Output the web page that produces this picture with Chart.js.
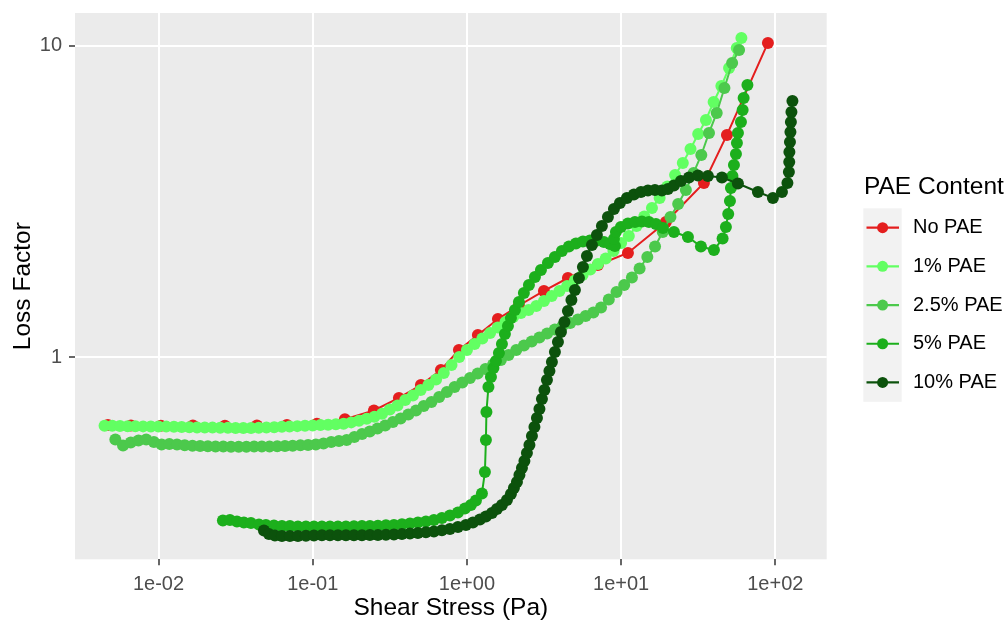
<!DOCTYPE html>
<html>
<head>
<meta charset="utf-8">
<title>Loss factor vs shear stress</title>
<script src="https://cdn.jsdelivr.net/npm/chart.js@4.4.1/dist/chart.umd.min.js"></script>
<style>
  html, body { margin: 0; padding: 0; background: #ffffff; }
  #wrap { width: 1008px; height: 623px; }
</style>
</head>
<body>
<div id="wrap"><canvas id="lossChart" width="1008" height="623"></canvas></div>
<script>
// stress sweep results, one x/y pair of arrays per PAE content
var seriesNames = ['No PAE', '1% PAE', '2.5% PAE', '5% PAE', '10% PAE'];

var noPaeX = [0.004696, 0.006622, 0.01036, 0.01671, 0.02695, 0.04345, 0.06803, 0.1065, 0.1617, 0.2494,
    0.3622, 0.5031, 0.6781, 0.8873, 1.178, 1.589, 2.174, 3.158, 4.519, 7.071, 11.07, 19.52, 34.43, 48.55, 89.54];
var noPaeY = [0.6060, 0.6040, 0.6030, 0.6035, 0.6030, 0.6035, 0.6060, 0.6120, 0.6330, 0.6747,
    0.7402, 0.8147, 0.9104, 1.0555, 1.1795, 1.3277, 1.4670, 1.6330, 1.7977, 1.9791, 2.1628, 2.7208, 3.6301, 5.1781, 10.224];

var pae1X = [0.004467, 0.005012, 0.005623, 0.006310, 0.007079, 0.007943, 0.008913,
    0.01, 0.01122, 0.01259, 0.01413, 0.01585, 0.01778, 0.01995, 0.02239, 0.02512, 0.02818,
    0.03162, 0.03548, 0.03981, 0.04467, 0.05012, 0.05623, 0.06310, 0.07079, 0.07943, 0.08913,
    0.1, 0.1122, 0.1259, 0.1413, 0.1585, 0.1778, 0.1995, 0.2239, 0.2512, 0.2818,
    0.3162, 0.3548, 0.3981, 0.4467, 0.5012, 0.5623, 0.6310, 0.7079, 0.7943, 0.8913,
    1.0, 1.122, 1.259, 1.413, 1.585, 1.778, 1.995, 2.239, 2.512, 2.818,
    3.162, 3.548, 3.981, 4.467, 5.012, 5.623, 6.310, 7.079, 7.943, 8.913,
    10.0, 11.22, 12.59, 14.13, 15.85, 17.78, 19.95, 22.39, 25.12, 28.18,
    31.62, 35.48, 39.81, 44.67, 50.12, 56.23, 60.26];
var pae1Y = [0.6030, 0.6030, 0.6020, 0.6010, 0.6005, 0.6000, 0.5996,
    0.5993, 0.5989, 0.5980, 0.5971, 0.5963, 0.5949, 0.5949, 0.5945, 0.5941, 0.5936,
    0.5932, 0.5927, 0.5927, 0.5936, 0.5949, 0.5963, 0.5980, 0.5993, 0.6011, 0.6025,
    0.6040, 0.6058, 0.6070, 0.6090, 0.6120, 0.6180, 0.6260, 0.6350, 0.6440, 0.6590,
    0.6800, 0.7000, 0.7293, 0.7541, 0.7854, 0.8147, 0.8485, 0.8903, 0.9447, 1.0022,
    1.0555, 1.1034, 1.1493, 1.1969, 1.2467, 1.2983, 1.3475, 1.3879, 1.4190, 1.4616,
    1.5166, 1.5737, 1.6330, 1.6945, 1.7648, 1.8381, 1.9144, 1.9937, 2.0765, 2.1950,
    2.3289, 2.4527, 2.6414, 2.8337, 3.0171, 3.2487, 3.5373, 3.8520, 4.2089, 4.6696,
    5.2166, 5.7834, 6.6087, 7.4386, 8.5004, 9.8533, 10.610];

var pae25X = [0.005248, 0.005888, 0.006607, 0.007413, 0.008318, 0.009333,
    0.01047, 0.01175, 0.01318, 0.01479, 0.01660, 0.01862, 0.02089, 0.02344, 0.02630, 0.02951,
    0.03311, 0.03715, 0.04169, 0.04677, 0.05248, 0.05888, 0.06607, 0.07413, 0.08318, 0.09333,
    0.1047, 0.1175, 0.1318, 0.1479, 0.1660, 0.1862, 0.2089, 0.2344, 0.2630, 0.2951,
    0.3311, 0.3715, 0.4169, 0.4677, 0.5248, 0.5888, 0.6607, 0.7413, 0.8318, 0.9333,
    1.047, 1.175, 1.318, 1.479, 1.660, 1.862, 2.089, 2.344, 2.630, 2.951,
    3.311, 3.715, 4.169, 4.677, 5.248, 5.888, 6.607, 7.413, 8.318, 9.333,
    10.47, 11.75, 13.18, 14.79, 16.60, 18.62, 20.89, 23.44, 26.30, 29.51,
    33.11, 37.15, 41.69, 46.77, 52.48, 58.21];
var pae25Y = [0.5445, 0.5208, 0.5325, 0.5405, 0.5445, 0.5345,
    0.5247, 0.5266, 0.5247, 0.5216, 0.5197, 0.5189, 0.5178, 0.5170, 0.5166, 0.5162,
    0.5162, 0.5162, 0.5166, 0.5166, 0.5170, 0.5178, 0.5189, 0.5201, 0.5216, 0.5227,
    0.5247, 0.5285, 0.5345, 0.5385, 0.5425, 0.5546, 0.5671, 0.5776, 0.5906, 0.6039,
    0.6197, 0.6359, 0.6550, 0.6747, 0.6977, 0.7186, 0.7457, 0.7738, 0.8030, 0.8299,
    0.8580, 0.8870, 0.9171, 0.9481, 0.9802, 1.0172, 1.0555, 1.0912, 1.1240, 1.1577,
    1.1925, 1.2283, 1.2606, 1.2888, 1.3228, 1.3575, 1.3930, 1.4454, 1.5335, 1.6210,
    1.7071, 1.8044, 1.9286, 2.1004, 2.2694, 2.5267, 2.8232, 3.1075, 3.4470, 3.9094,
    4.4654, 5.2553, 6.0928, 7.3294, 8.8199, 9.7077];

var pae5X = [0.02615, 0.02904, 0.03225, 0.03578, 0.03974, 0.04478, 0.04973, 0.05602, 0.06314, 0.07113,
    0.08017, 0.09034, 0.1018, 0.1147, 0.1293, 0.1457, 0.1642, 0.1850, 0.2085, 0.2349,
    0.2648, 0.2984, 0.3362, 0.3789, 0.4270, 0.4810, 0.5421, 0.6109, 0.6885, 0.7759,
    0.8743, 0.9705, 1.0615, 1.1441, 1.2512, 1.3083, 1.3280, 1.3381, 1.3789, 1.4313,
    1.4857, 1.5423, 1.6126, 1.6866, 1.7637, 1.8446, 1.9289, 2.0477, 2.1739, 2.3418,
    2.5240, 2.7606, 3.0197, 3.3514, 3.7206, 4.1308, 4.5857, 5.0920, 5.6533, 6.2763,
    6.9679, 7.7358, 8.4607, 9.1172, 8.9819, 9.2546, 9.9700, 11.07, 12.29, 13.64,
    15.15, 16.82, 18.67, 22.00, 27.13, 32.92, 39.98, 45.52, 47.82, 49.50,
    50.78, 51.55, 52.72, 53.91, 55.54, 56.36, 57.24, 59.84, 61.38, 62.31, 65.93];
var pae5Y = [0.2991, 0.3002, 0.2969, 0.2947, 0.2936, 0.2903, 0.2893, 0.2882, 0.2871, 0.2871,
    0.2861, 0.2861, 0.2861, 0.2861, 0.2861, 0.2861, 0.2861, 0.2865, 0.2871, 0.2871,
    0.2876, 0.2887, 0.2893, 0.2908, 0.2925, 0.2947, 0.2969, 0.3002, 0.3046, 0.3103,
    0.3173, 0.3268, 0.3354, 0.3467, 0.3652, 0.4281, 0.5425, 0.6672, 0.8030, 0.8644,
    0.9240, 0.9730, 1.0323, 1.1034, 1.1881, 1.2606, 1.3375, 1.4190, 1.5055, 1.6090,
    1.7071, 1.8111, 1.9073, 2.0085, 2.1004, 2.1950, 2.2694, 2.3203, 2.3549, 2.3724,
    2.3724, 2.3462, 2.3118, 2.2778, 2.3990, 2.5267, 2.6220, 2.6908, 2.7208, 2.7309,
    2.7208, 2.6809, 2.6027, 2.5267, 2.4346, 2.2694, 2.2113, 2.4079, 2.6220, 2.8866,
    3.1775, 3.4984, 3.8237, 4.1471, 4.4985, 4.8809, 5.2553, 5.7008, 6.2294, 6.8080, 7.4938];

var pae10X = [0.04827, 0.05200, 0.05687, 0.06314, 0.07113, 0.08017, 0.09034, 0.1018, 0.1147, 0.1293,
    0.1457, 0.1642, 0.1850, 0.2085, 0.2349, 0.2648, 0.2984, 0.3362, 0.3789, 0.4270,
    0.4810, 0.5421, 0.6109, 0.6885, 0.7759, 0.8743, 0.9852, 1.0937, 1.2144, 1.3280,
    1.4527, 1.5651, 1.6866, 1.8172, 1.9289, 2.0172, 2.1103, 2.1903, 2.2736, 2.3598,
    2.4496, 2.5431, 2.6399, 2.7402, 2.8447, 2.9527, 3.0648, 3.1812, 3.3023, 3.4279,
    3.5582, 3.7212, 3.8924, 4.0707, 4.2889, 4.5186, 4.7609, 5.0164, 5.3255, 5.6530,
    6.0008, 6.4676, 6.9673, 7.5070, 8.2111, 8.9814, 9.8225, 10.905, 12.107, 13.440,
    14.923, 16.566, 18.389, 20.113, 22.000, 24.423, 27.533, 31.479, 36.548, 45.066,
    57.218, 77.130, 96.48, 110.4, 119.8, 122.5, 123.1, 123.4, 124.4, 125.3,
    126.2, 127.2, 129.1];
var pae10Y = [0.2777, 0.2706, 0.2676, 0.2666, 0.2666, 0.2666, 0.2670, 0.2676, 0.2680, 0.2682,
    0.2682, 0.2682, 0.2682, 0.2682, 0.2686, 0.2686, 0.2690, 0.2696, 0.2706, 0.2716,
    0.2726, 0.2740, 0.2756, 0.2781, 0.2808, 0.2850, 0.2893, 0.2947, 0.3013, 0.3080,
    0.3161, 0.3256, 0.3354, 0.3480, 0.3638, 0.3803, 0.3976, 0.4187, 0.4410, 0.4644,
    0.4927, 0.5228, 0.5587, 0.5972, 0.6383, 0.6823, 0.7348, 0.7854, 0.8454, 0.9036,
    0.9658, 1.0400, 1.1199, 1.2058, 1.2983, 1.4085, 1.5278, 1.6451, 1.7977, 1.9500,
    2.1160, 2.2949, 2.4711, 2.6414, 2.8232, 2.9950, 3.1306, 3.2487, 3.3343, 3.3963,
    3.4343, 3.4470, 3.4343, 3.4727, 3.5635, 3.6841, 3.7806, 3.8371, 3.8237, 3.7806,
    3.6167, 3.3963, 3.2487, 3.3963, 3.6301, 3.9384, 4.2402, 4.5660, 4.9172, 5.2943,
    5.7008, 6.1380, 6.6578];

var xTicks = [0.01, 0.1, 1, 10, 100];
var xTickLabels = ['1e-02', '1e-01', '1e+00', '1e+01', '1e+02'];
var yTicks = [1, 10];
var yTickLabels = ['1', '10'];

var seriesColors = ['#E41E1E', '#62FF62', '#4CC94C', '#1CAF1C', '#0C520C'];
var FONT = '"Liberation Sans", Arial, sans-serif';

function toPoints(xs, ys) {
    return xs.map(function (x, i) { return {x: x, y: ys[i]}; });
}

var seriesData = [
    toPoints(noPaeX, noPaeY),
    toPoints(pae1X, pae1Y),
    toPoints(pae25X, pae25Y),
    toPoints(pae5X, pae5Y),
    toPoints(pae10X, pae10Y)
];

var datasets = seriesNames.map(function (name, i) {
    return {
        label: name,
        data: seriesData[i],
        showLine: true,
        borderColor: seriesColors[i],
        backgroundColor: seriesColors[i],
        pointBackgroundColor: seriesColors[i],
        pointBorderWidth: 0,
        pointRadius: 6,
        pointHoverRadius: 6,
        borderWidth: 2,
        tension: 0,
        // later series sit on top
        order: seriesNames.length - 1 - i
    };
});

// grey panel behind the grid
var panelBackground = {
    id: 'panelBackground',
    beforeDraw: function (chart) {
        var ctx = chart.ctx, a = chart.chartArea;
        ctx.save();
        ctx.fillStyle = '#FFFFFF';
        ctx.fillRect(0, 0, chart.width, chart.height);
        ctx.fillStyle = '#EBEBEB';
        ctx.fillRect(a.left, a.top, a.right - a.left, a.bottom - a.top);
        ctx.restore();
    }
};

// legend on the right: title, grey key column, line+dot keys
var sideLegend = {
    id: 'sideLegend',
    afterDraw: function (chart) {
        var ctx = chart.ctx;
        var keyTop = 208.3, keyH = 38.7;
        ctx.save();
        ctx.textBaseline = 'middle';
        ctx.textAlign = 'left';
        ctx.fillStyle = '#000000';
        ctx.font = '24.5px ' + FONT;
        ctx.fillText('PAE Content', 864, 187);

        ctx.fillStyle = '#F2F2F2';
        ctx.fillRect(863.3, keyTop, 38.4, keyH * seriesNames.length);

        ctx.font = '20px ' + FONT;
        seriesNames.forEach(function (name, i) {
            var cy = keyTop + keyH * (i + 0.5);
            ctx.strokeStyle = seriesColors[i];
            ctx.lineWidth = 2.2;
            ctx.beginPath();
            ctx.moveTo(866.5, cy);
            ctx.lineTo(899, cy);
            ctx.stroke();
            ctx.fillStyle = seriesColors[i];
            ctx.beginPath();
            ctx.arc(882.6, cy, 5.5, 0, Math.PI * 2);
            ctx.fill();
            ctx.fillStyle = '#000000';
            ctx.fillText(name, 913, cy);
        });
        ctx.restore();
    }
};

Chart.defaults.font.family = FONT;

var lossChart = new Chart(document.getElementById('lossChart'), {
    type: 'scatter',
    data: {datasets: datasets},
    plugins: [panelBackground, sideLegend],
    options: {
        responsive: false,
        animation: false,
        events: [],
        layout: {padding: {left: 0, top: 13, right: 181.3, bottom: 0}},
        plugins: {
            legend: {display: false},
            tooltip: {enabled: false}
        },
        scales: {
            x: {
                type: 'logarithmic',
                min: 0.002873,
                max: 215.4,
                afterBuildTicks: function (scale) {
                    scale.ticks = xTicks.map(function (v) { return {value: v}; });
                },
                afterFit: function (scale) {
                    scale.height = 63.7;
                    scale.paddingLeft = 0;
                    scale.paddingRight = 0;
                },
                ticks: {
                    autoSkip: false,
                    maxRotation: 0,
                    padding: 7,
                    color: '#4D4D4D',
                    font: {size: 20},
                    callback: function (value, index) { return xTickLabels[index]; }
                },
                grid: {color: '#FFFFFF', lineWidth: 2, tickColor: '#333333', tickLength: 6, tickWidth: 1.5},
                border: {display: false},
                title: {
                    display: true,
                    text: 'Shear Stress (Pa)',
                    color: '#000000',
                    font: {size: 24.5},
                    padding: {top: 0, bottom: 0}
                }
            },
            y: {
                type: 'logarithmic',
                min: 0.2245,
                max: 12.76,
                afterBuildTicks: function (scale) {
                    scale.ticks = yTicks.map(function (v) { return {value: v}; });
                },
                afterFit: function (scale) {
                    scale.width = 75;
                    scale.paddingTop = 0;
                    scale.paddingBottom = 0;
                },
                ticks: {
                    autoSkip: false,
                    padding: 7,
                    color: '#4D4D4D',
                    font: {size: 20},
                    callback: function (value, index) { return yTickLabels[index]; }
                },
                grid: {color: '#FFFFFF', lineWidth: 2, tickColor: '#333333', tickLength: 6, tickWidth: 1.5},
                border: {display: false},
                title: {
                    display: true,
                    text: 'Loss Factor',
                    color: '#000000',
                    font: {size: 24.5},
                    padding: {top: 8.6, bottom: 0}
                }
            }
        }
    }
});
</script>
</body>
</html>
